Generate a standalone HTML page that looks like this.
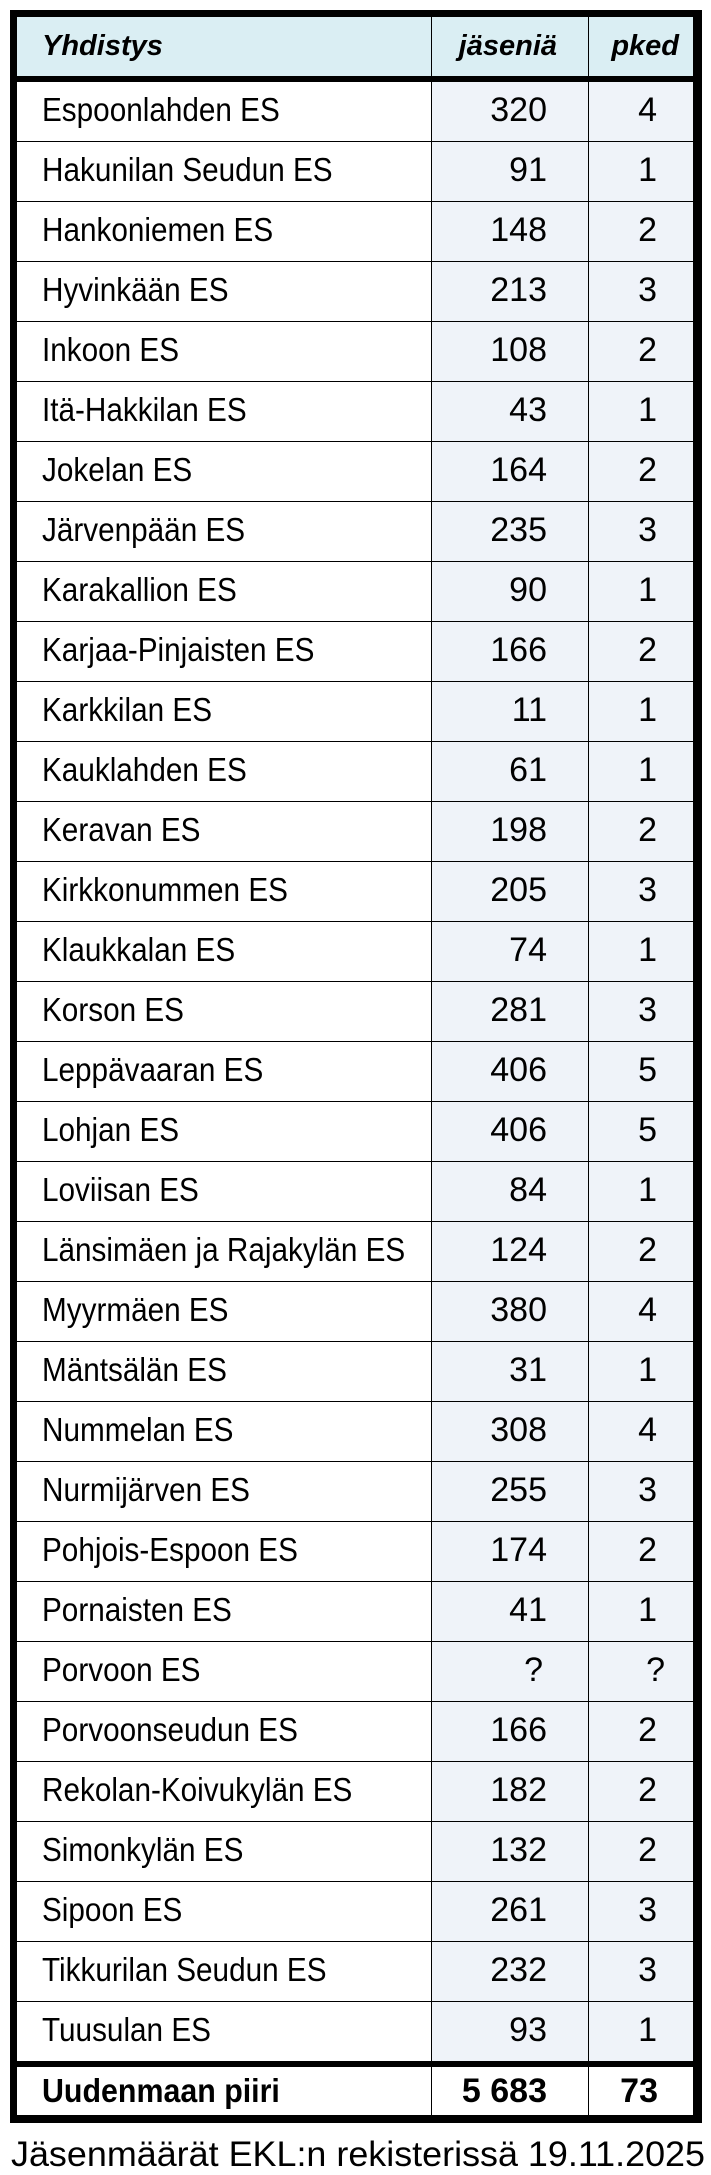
<!DOCTYPE html>
<html><head><meta charset="utf-8"><style>
html,body{margin:0;padding:0;background:#fff;width:711px;height:2175px;overflow:hidden}
body{position:relative;font-family:"Liberation Sans",Arial,sans-serif;color:#000}
.a{position:absolute}
.r{position:absolute;left:17px;width:676px;height:60px;border-bottom:1px solid #000;box-sizing:border-box}
.n{position:absolute;left:25px;top:0;line-height:56px;font-size:33px;white-space:nowrap;transform:scaleX(0.9);transform-origin:0 0}
.v{position:absolute;right:146px;top:0;line-height:56px;font-size:34px}
.p{position:absolute;right:36px;top:0;line-height:56px;font-size:34px}
</style></head><body>
<div class="a" style="left:10px;top:10px;width:692px;height:2113px;background:#000"></div>
<div class="a" style="left:17px;top:17px;width:676px;height:2098px;background:#fff"></div>
<div class="a" style="left:17px;top:17px;width:676px;height:59px;background:#daeef3"></div>
<div class="a" style="left:17px;top:76px;width:676px;height:6px;background:#000"></div>
<div class="a" style="left:432px;top:82px;width:261px;height:1980px;background:#eff3f9"></div>
<div class="a" style="left:42px;top:17px;line-height:59px;font-size:29px;font-weight:bold;font-style:italic">Yhdistys</div>
<div class="a" style="right:154px;top:17px;line-height:59px;font-size:29px;font-weight:bold;font-style:italic">jäseniä</div>
<div class="a" style="right:32px;top:17px;line-height:59px;font-size:29px;font-weight:bold;font-style:italic">pked</div>
<div id="rows"></div>
<div class="a" style="left:17px;top:2061px;width:676px;height:6px;background:#000"></div>
<div class="a" style="left:42px;top:2067px;line-height:48px;font-size:33px;font-weight:bold;transform:scaleX(0.92);transform-origin:0 0">Uudenmaan piiri</div>
<div class="a" style="right:164px;top:2067px;line-height:48px;font-size:34px;font-weight:bold">5 683</div>
<div class="a" style="right:53px;top:2067px;line-height:48px;font-size:34px;font-weight:bold">73</div>
<div class="a" style="left:431px;top:17px;width:1px;height:2098px;background:#000"></div>
<div class="a" style="left:588px;top:17px;width:1px;height:2098px;background:#000"></div>
<svg class="a" style="left:0;top:2125px" width="711" height="50"><text x="11" y="41" font-family="Liberation Sans, sans-serif" font-size="35" textLength="694" lengthAdjust="spacingAndGlyphs">Jäsenmäärät EKL:n rekisterissä 19.11.2025</text></svg>
<script>
var d=[["Espoonlahden ES","320","4"],["Hakunilan Seudun ES","91","1"],["Hankoniemen ES","148","2"],["Hyvinkään ES","213","3"],["Inkoon ES","108","2"],["Itä-Hakkilan ES","43","1"],["Jokelan ES","164","2"],["Järvenpään ES","235","3"],["Karakallion ES","90","1"],["Karjaa-Pinjaisten ES","166","2"],["Karkkilan ES","11","1"],["Kauklahden ES","61","1"],["Keravan ES","198","2"],["Kirkkonummen ES","205","3"],["Klaukkalan ES","74","1"],["Korson ES","281","3"],["Leppävaaran ES","406","5"],["Lohjan ES","406","5"],["Loviisan ES","84","1"],["Länsimäen ja Rajakylän ES","124","2"],["Myyrmäen ES","380","4"],["Mäntsälän ES","31","1"],["Nummelan ES","308","4"],["Nurmijärven ES","255","3"],["Pohjois-Espoon ES","174","2"],["Pornaisten ES","41","1"],["Porvoon ES","?","?"],["Porvoonseudun ES","166","2"],["Rekolan-Koivukylän ES","182","2"],["Simonkylän ES","132","2"],["Sipoon ES","261","3"],["Tikkurilan Seudun ES","232","3"],["Tuusulan ES","93","1"]];
var h="";
d.forEach(function(r,i){var t=82+i*60;var last=i==d.length-1;
var vr=r[1]=="?"?150:146, pr=r[2]=="?"?28:36;
h+='<div class="r" style="top:'+t+'px;'+(last?'border-bottom:none':'')+'"><div class="n">'+r[0]+'</div><div class="v" style="right:'+vr+'px">'+r[1]+'</div><div class="p" style="right:'+pr+'px">'+r[2]+'</div></div>';});
document.getElementById("rows").innerHTML=h;
</script>
</body></html>
